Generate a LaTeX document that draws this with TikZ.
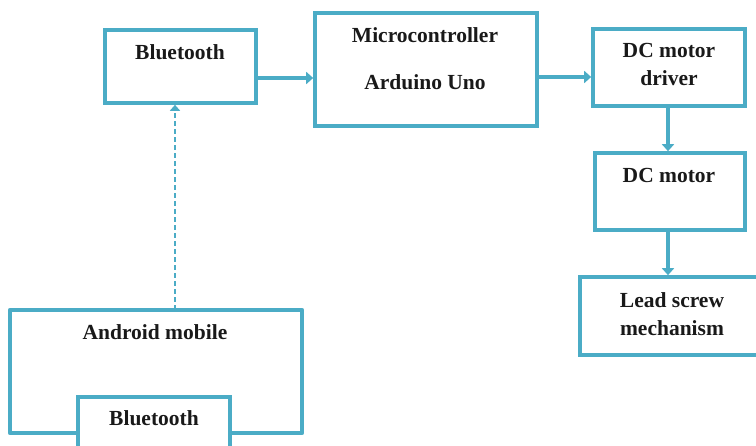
\documentclass[tikz,border=0pt]{standalone}
\usepackage{fontspec}
\setmainfont{Liberation Serif}
\usetikzlibrary{arrows.meta}
\definecolor{tealline}{HTML}{4BACC6}
\tikzset{
  blk/.style={draw=tealline, line width=3.6pt, rectangle, inner sep=0pt},
  lbl/.style={font=\bfseries\fontsize{21.5}{26}\selectfont, inner sep=0pt, align=center, text=black!90},
  flow/.style={draw=tealline, line width=4.5pt, -{Triangle[length=7pt,width=12pt]}},
  wireless/.style={draw=tealline, line width=2.6pt, dash pattern=on 5pt off 3pt, -{Triangle[length=6pt,width=10pt]}}
}
\begin{document}
\begin{tikzpicture}[x=1pt,y=-1pt]
\useasboundingbox (0,0) rectangle (756,446);
\clip (0,0) rectangle (756,446);
% boxes
\node[blk, minimum width=151pt, minimum height=73pt] (bt1) at (180.5,66.5) {};
\node[blk, minimum width=222pt, minimum height=113pt] (mcu) at (426,69.5) {};
\node[blk, minimum width=152pt, minimum height=77pt] (drv) at (669,67.5) {};
\node[blk, minimum width=150pt, minimum height=77pt] (mot) at (670,191.5) {};
\node[blk, minimum width=182pt, minimum height=78pt] (lead) at (671,316) {};
% android mobile (open bottom)
\node[minimum width=292pt, minimum height=123pt, inner sep=0pt] (andr) at (156,371.5) {};
\node[blk, minimum width=152pt, minimum height=80pt] (bt2) at (154,437) {};
\draw[tealline, line width=3.6pt, line join=round]
  (bt2.west |- andr.south) -- (andr.south west) -- (andr.north west) -- (andr.north east) -- (andr.south east) -- (bt2.east |- andr.south);
% labels
\node[lbl] (t1) at (180,52) {Bluetooth};
\node[lbl] (t2) at (425,35) {Microcontroller};
\node[lbl] (t3) at (425,82) {Arduino Uno};
\node[lbl] (t4) at (669,50) {DC motor};
\node[lbl] (t5) at (669,78) {driver};
\node[lbl] (t6) at (669,175) {DC motor};
\node[lbl] (t7) at (672,300) {Lead screw};
\node[lbl] (t8) at (672,328) {mechanism};
\node[lbl] (t9) at (155,332) {Android mobile};
\node[lbl] (t10) at (154,418) {Bluetooth};
% connectors
\draw[flow] (bt1.east |- 0,78) -- (mcu.west |- 0,78);
\draw[flow] (mcu.east |- 0,77) -- (drv.west |- 0,77);
\draw[flow] (drv.south -| 668,0) -- (mot.north -| 668,0);
\draw[flow] (mot.south -| 668,0) -- (lead.north -| 668,0);
\draw[wireless] (andr.north -| 175,0) -- (bt1.south -| 175,0);
\end{tikzpicture}
\end{document}
